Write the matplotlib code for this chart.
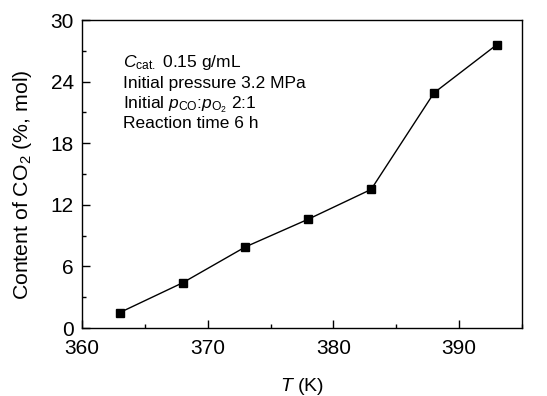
import matplotlib
matplotlib.use("Agg")
import matplotlib.pyplot as plt
from matplotlib.ticker import MultipleLocator

plt.rcParams["font.family"] = ["Liberation Sans", "DejaVu Sans"]
plt.rcParams["mathtext.fontset"] = "custom"
plt.rcParams["mathtext.rm"] = "Liberation Sans"
plt.rcParams["mathtext.it"] = "Liberation Sans:italic"

temperature = [363, 368, 373, 378, 383, 388, 393]
co2_content = [1.5, 4.4, 7.9, 10.6, 13.5, 22.9, 27.6]

fig = plt.figure(figsize=(5.47, 3.96), dpi=100)
ax = fig.add_axes([82 / 547, 68 / 396, 440 / 547, 308 / 396])

ax.plot(temperature, co2_content, color="black", linewidth=1.0,
        marker="s", markersize=6.3, markerfacecolor="black")

ax.set_xlim(360, 395)
ax.set_ylim(0, 30)
ax.xaxis.set_major_locator(MultipleLocator(10))
ax.xaxis.set_minor_locator(MultipleLocator(5))
ax.yaxis.set_major_locator(MultipleLocator(6))
ax.yaxis.set_minor_locator(MultipleLocator(3))
ax.tick_params(which="both", direction="in", top=False, right=False,
               labelsize=15, width=1.0)
ax.tick_params(which="major", length=6)
ax.tick_params(axis="x", which="major", pad=8)
ax.tick_params(axis="y", which="major", pad=6)
ax.tick_params(which="minor", length=3)
for spine in ax.spines.values():
    spine.set_linewidth(1.0)

ax.set_xlabel(r"$\mathit{T}$ (K)", fontsize=14)
ax.xaxis.set_label_coords(0.5, -0.155)
ax.set_ylabel(r"Content of CO$_2$ (%, mol)", fontsize=15.3)
ax.yaxis.set_label_coords(-0.11, 0.464)

lines = [
    r"$\mathit{C}_{\mathrm{cat.}}$ 0.15 g/mL",
    "Initial pressure 3.2 MPa",
    r"Initial $\mathit{p}_{\mathrm{CO}}$:$\mathit{p}_{\mathrm{O_2}}$ 2:1",
    "Reaction time 6 h",
]
baselines = [67, 88, 108, 128]
for text, base in zip(lines, baselines):
    ax.text((123 - 82) / 440, (328 - base) / 308, text,
            transform=ax.transAxes, fontsize=12.5,
            va="baseline", ha="left")

fig.savefig("out.png", dpi=100)
